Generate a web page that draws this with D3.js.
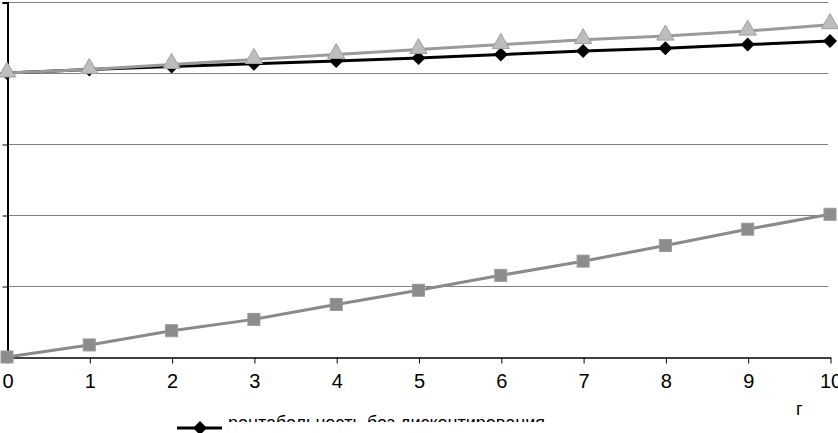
<!DOCTYPE html>
<html><head><meta charset="utf-8">
<script src="https://cdn.jsdelivr.net/npm/d3@7"></script>
<style>html,body{margin:0;padding:0;background:#fff;overflow:hidden}</style>
</head><body>
<script>
const years = [0,1,2,3,4,5,6,7,8,9,10];
const yTicks = [0,10,20,30,40,50];
const seriesNoDisc = [40,40.5,40.9,41.3,41.7,42.1,42.6,43.1,43.5,44.0,44.5];
const seriesTri = [40,40.5,41.2,41.9,42.6,43.3,44.0,44.7,45.2,45.9,46.8];
const seriesSq = [0,1.7,3.7,5.3,7.4,9.4,11.5,13.5,15.7,18.0,20.1];
const legendLabel = "рентабельность без дисконтирования";
const xTitle = "г";

const W=838,H=433;
const svg=d3.select("body").append("svg").attr("width",W).attr("height",H)
  .style("font-family","'Liberation Sans',Arial,sans-serif");
const x=d3.scaleLinear().domain([0,10]).range([7,830]);
const y=d3.scaleLinear().domain([0,50]).range([357,2]);
const diamond = "M0,-7L7,0L0,7L-7,0Z";

// gridlines
svg.append("g").selectAll("line").data(yTicks.filter(d=>d>0)).join("line")
  .attr("x1",x(0)).attr("x2",828).attr("y1",d=>y(d)+0.5).attr("y2",d=>y(d)+0.5)
  .attr("stroke","#808080").attr("stroke-width",1);

// y axis
const ya=svg.append("g").attr("transform",`translate(${x(0)+0.5},0.5)`)
  .call(d3.axisLeft(y).tickValues(yTicks).tickSize(5).tickFormat(""));
ya.select(".domain").attr("stroke","#000").attr("stroke-width",2);
ya.selectAll(".tick line").attr("stroke","#000");

// x axis
const xa=svg.append("g").attr("transform",`translate(0.5,${y(0)+0.5})`)
  .call(d3.axisBottom(x).tickValues(years).tickSize(6).tickSizeOuter(0).tickPadding(10));
xa.select(".domain").attr("stroke","#000").attr("stroke-width",1.5);
xa.selectAll(".tick line").attr("stroke","#000");
xa.selectAll(".tick text").attr("font-size",20).attr("fill","#000")
  .attr("font-family","'Liberation Sans',Arial,sans-serif");

const line=d3.line().x((d,i)=>x(years[i])).y(d=>y(d));

// square series
svg.append("path").datum(seriesSq).attr("d",line).attr("fill","none")
  .attr("stroke","#8a8a8a").attr("stroke-width",3);
svg.append("g").selectAll("rect").data(seriesSq).join("rect")
  .attr("x",(d,i)=>x(years[i])-6).attr("y",d=>y(d)-6).attr("width",12).attr("height",12)
  .attr("fill","#8c8c8c").attr("stroke","#9a9a9a").attr("stroke-width",1);

// black diamond series
svg.append("path").datum(seriesNoDisc).attr("d",line).attr("fill","none")
  .attr("stroke","#000").attr("stroke-width",3);
// triangle series
svg.append("path").datum(seriesTri).attr("d",line).attr("fill","none")
  .attr("stroke","#9a9a9a").attr("stroke-width",3);

svg.append("g").selectAll("path").data(seriesNoDisc).join("path")
  .attr("d",diamond)
  .attr("transform",(d,i)=>`translate(${x(years[i])},${y(d)})`).attr("fill","#000");

svg.append("g").selectAll("path").data(seriesTri).join("path")
  .attr("d",d3.symbol().type(d3.symbolTriangle).size(130))
  .attr("transform",(d,i)=>`translate(${x(years[i])},${y(d)-1})`)
  .attr("fill","#bdbdbd").attr("stroke","#a0a0a0").attr("stroke-width",1);

// x title
svg.append("text").attr("x",796).attr("y",415).attr("font-size",18).attr("fill","#000").text(xTitle);

// legend (clipped as in reference)
svg.append("clipPath").attr("id","lc").append("rect").attr("x",0).attr("y",0).attr("width",W).attr("height",422);
const lg=svg.append("g");
lg.append("line").attr("x1",177).attr("x2",222).attr("y1",428).attr("y2",428).attr("stroke","#000").attr("stroke-width",3);
lg.append("path").attr("d",diamond).attr("transform","translate(200,428)").attr("fill","#000");
lg.append("text").attr("x",228).attr("y",429).attr("font-size",18).attr("fill","#000")
  .attr("clip-path","url(#lc)").text(legendLabel);
</script>
</body></html>
